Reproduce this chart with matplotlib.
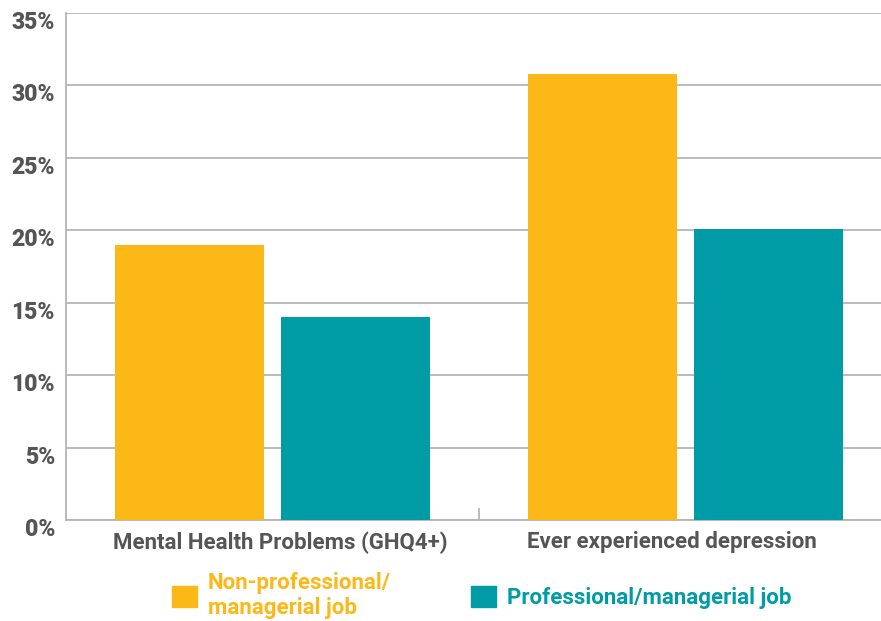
import matplotlib
matplotlib.use("Agg")
import matplotlib.pyplot as plt
import matplotlib.transforms as mtransforms
from matplotlib.patches import Patch
import numpy as np

categories = ["Mental Health Problems (GHQ4+)", "Ever experienced depression"]
series_names = ["Non-professional/\nmanagerial job", "Professional/managerial job"]
non_prof = [19.0, 30.8]
prof = [14.0, 20.1]
yticks = [0, 5, 10, 15, 20, 25, 30, 35]
ytick_labels = ["0%", "5%", "10%", "15%", "20%", "25%", "30%", "35%"]

YELLOW = "#FBB817"
TEAL = "#009CA6"
GRID = "#B5B5B5"
TXT = "#555555"

plt.rcParams["font.family"] = ["Roboto", "DejaVu Sans"]

fig = plt.figure(figsize=(8.81, 6.21), dpi=100)
ax = fig.add_axes([66 / 881, 101 / 621, 826 / 881, 507.3 / 621])

x = np.arange(len(categories))
w = 0.361
off = 0.2
ax.bar(x - off, non_prof, w, color=YELLOW, zorder=3)
ax.bar(x + off, prof, w, color=TEAL, zorder=3)

ax.set_xlim(-0.5, 1.5)
ax.set_ylim(0, 35)
ax.set_yticks(yticks)
ax.set_yticklabels(ytick_labels)
ax.yaxis.grid(True, color=GRID, linewidth=1.3, zorder=0)
ax.set_axisbelow(True)

for s in ["top", "right"]:
    ax.spines[s].set_visible(False)
for s in ["left", "bottom"]:
    ax.spines[s].set_color(GRID)
    ax.spines[s].set_linewidth(1.3)

ax.tick_params(axis="y", length=0, pad=8, labelsize=16.5, labelcolor=TXT)
for lab in ax.get_yticklabels():
    lab.set_fontweight("heavy")
    lab.set_transform(lab.get_transform() + mtransforms.ScaledTranslation(0, -7 / 100, fig.dpi_scale_trans))

ax.set_xticks([0.5])
ax.set_xticklabels([""])
ax.tick_params(axis="x", which="major", direction="in", length=9, width=1.3, color=GRID)
ax.set_xticks(x, minor=True)
ax.set_xticklabels(categories, minor=True)
ax.tick_params(axis="x", which="minor", length=0, pad=8, labelsize=16, labelcolor=TXT)
shifts = [8, -14]
for lab, sh in zip(ax.get_xticklabels(minor=True), shifts):
    lab.set_fontweight("bold")
    lab.set_transform(lab.get_transform() + mtransforms.ScaledTranslation(sh / 100, 0, fig.dpi_scale_trans))

handles = [Patch(color=YELLOW), Patch(color=TEAL)]
leg = fig.legend(handles, series_names, loc="upper left",
                 bbox_to_anchor=(172 / 881, 1 - 572 / 621), ncol=2, frameon=False,
                 fontsize=16, handlelength=1.125, handleheight=1.1, handletextpad=0.5,
                 columnspacing=3.6, borderpad=0, borderaxespad=0, labelspacing=0.2)
for t, c in zip(leg.get_texts(), [YELLOW, TEAL]):
    t.set_color(c)
    t.set_fontweight("bold")
    t.set_linespacing(1.15)

fig.savefig("out.png", dpi=100)
